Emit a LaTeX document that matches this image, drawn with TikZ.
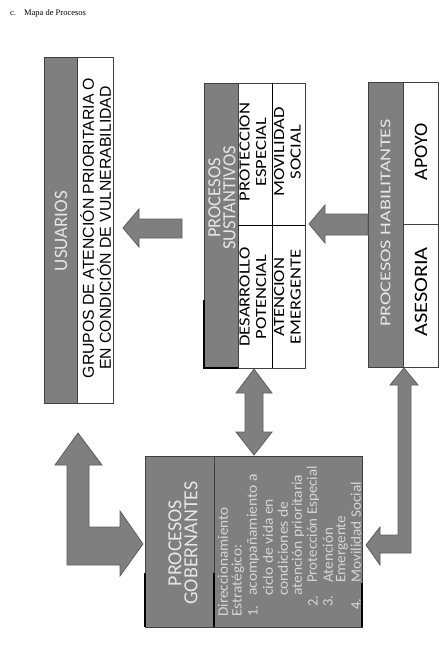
\documentclass[tikz,border=0pt]{standalone}
\usepackage{fontspec}
\setmainfont{Carlito}
\newfontfamily\arialf{Liberation Sans}
\newfontfamily\timesf{Liberation Serif}
\definecolor{dk}{HTML}{7F7F7F}
\definecolor{edgec}{HTML}{404040}
\definecolor{arredge}{HTML}{5E5E5E}
\definecolor{lt}{HTML}{E6E6E6}
\definecolor{lt2}{HTML}{D6D6D6}
\newcommand{\cellstk}[2]{\scalebox{1.2}[1]{\begin{tabular}{@{}c@{}}#1\\#2\end{tabular}}}
\begin{document}
\begin{tikzpicture}[x=1pt,y=-1pt,
  boxn/.style={draw=edgec,line width=0.8pt,inner sep=0pt,outer sep=0pt,anchor=north west},
  darkn/.style={boxn,fill=dk},
  blockarrow/.style={fill=dk,draw=arredge,line width=0.8pt,line join=miter},
  vt/.style={rotate=90,inner sep=0pt,align=center},
  lbl/.style={vt,text=lt,font=\fontsize{19}{15}\selectfont},
  cell/.style={vt,text=black,font=\fontsize{15.5}{16.5}\selectfont},
  li/.style={rotate=90,inner sep=0pt,anchor=west,text=lt2,font=\fontsize{14.5}{14.5}\selectfont},
  artefact/.style={line width=1.6pt,black}
]
\fill[white] (0,0) rectangle (445,646);
\useasboundingbox (0,0) rectangle (445,646);

% caption
\node[anchor=west,inner sep=0pt,font=\timesf\fontsize{8.5}{8.5}\selectfont] (cap) at (10,13) {c.\hspace{8pt}Mapa de Procesos};

% ---------- USUARIOS ----------
\node[boxn,fill=white,minimum width=69pt,minimum height=346pt] (usu) at (44,57) {};
\node[darkn,minimum width=33pt,minimum height=346pt] (usud) at (44,57) {};
\node[lbl] (usut) at (61,231) {USUARIOS};
\node[vt,font=\arialf\fontsize{15.8}{17}\selectfont] (usug) at (95.5,228) {GRUPOS DE ATENCIÓN PRIORITARIA O\\EN CONDICIÓN DE VULNERABILIDAD};

% ---------- SUSTANTIVOS ----------
\node[boxn,fill=white,minimum width=101pt,minimum height=285pt] (sus) at (204,83) {};
\node[darkn,minimum width=34pt,minimum height=285pt] (susd) at (204,83) {};
\draw[black,line width=0.9pt] (sus.north west) ++(68,0) coordinate (sv1) -- (sus.south west -| sv1);
\draw[black,line width=0.9pt] (susd.east |- 0,225) coordinate (sh1) -- (sus.east |- sh1);
\draw[artefact] (204,300) -- (204,368) -- (238,368);
\node[lbl,font=\fontsize{18.5}{15}\selectfont] (sust) at (222,198) {PROCESOS\\SUSTANTIVOS};
\node[cell] (c1) at (254.5,152) {\cellstk{PROTECCION}{ESPECIAL}};
\node[cell] (c2) at (289,152) {\cellstk{MOVILIDAD}{SOCIAL}};
\node[cell] (c3) at (254.5,297) {\cellstk{DESARROLLO}{POTENCIAL}};
\node[cell] (c4) at (289,297) {\cellstk{ATENCION}{EMERGENTE}};

% ---------- HABILITANTES ----------
\node[boxn,fill=white,minimum width=70pt,minimum height=285pt] (hab) at (368,82) {};
\node[darkn,minimum width=35pt,minimum height=285pt] (habd) at (368,82) {};
\draw[edgec,line width=0.8pt] (habd.east |- 0,224) coordinate (hh1) -- (hab.east |- hh1);
\node[vt,text=lt,font=\fontsize{15}{15}\selectfont] (habt) at (385.5,223) {\scalebox{1.35}[1]{PROCESOS HABILITANTES}};
\node[vt,font=\fontsize{19}{19}\selectfont] (apoyo) at (421,152) {\scalebox{1.05}[1]{APOYO}};
\node[vt,font=\fontsize{19}{19}\selectfont] (ases) at (421,292) {\scalebox{1.18}[1]{ASESORIA}};

% ---------- GOBERNANTES ----------
\node[darkn,minimum width=217pt,minimum height=171pt] (gob) at (145,456) {};
\draw[edgec,line width=0.9pt] (214,456) coordinate (gv) -- (gob.south -| gv);
\draw[artefact] (145,573) -- (145,627);
\draw[artefact] (214,573) -- (214,627);
\draw[artefact] (362,583) -- (362,627);
\node[lbl,font=\fontsize{20}{16}\selectfont] (gobt) at (183,543) {PROCESOS\\GOBERNANTES};
\node[li] (l1) at (223,617) {\scalebox{1.05}[1]{Direccionamiento}};
\node[li] (l2) at (238,617) {\scalebox{1.05}[1]{Estratégico:}};
\node[li] (n1) at (253,617) {1.};
\node[li] (l3) at (253,596) {\scalebox{1.07}[1]{acompañamiento a}};
\node[li] (l4) at (268,596) {\scalebox{1.07}[1]{ciclo de vida en}};
\node[li] (l5) at (283,596) {\scalebox{1.07}[1]{condiciones de}};
\node[li] (l6) at (298,596) {\scalebox{1.07}[1]{atención prioritaria}};
\node[li] (n2) at (313,607) {2.};
\node[li] (l7) at (313,583) {\scalebox{1.03}[1]{Protección Especial}};
\node[li] (n3) at (328,607) {3.};
\node[li] (l8) at (328,583) {\scalebox{1.05}[1]{Atención}};
\node[li] (l9) at (342,583) {\scalebox{1.05}[1]{Emergente}};
\node[li] (n4) at (356,610) {4.};
\node[li] (l10) at (356,583) {\scalebox{1.05}[1]{Movilidad Social}};

% ---------- block arrows ----------
% sustantivos -> usuarios
\draw[blockarrow] (182,219) -- (139,219) -- (139,209) -- (123,228) -- (139,247) -- (139,238) -- (182,238) -- cycle;
% habilitantes -> sustantivos
\draw[blockarrow] (368,214) -- (325,214) -- (325,205) -- (309,224) -- (325,243) -- (325,235) -- (368,235) -- cycle;
% sustantivos <-> gobernantes
\draw[blockarrow] (254,369) -- (272,393) -- (263,393) -- (263,432) -- (272,432) -- (254,455) -- (236,432) -- (245,432) -- (245,393) -- (236,393) -- cycle;
% usuarios <-> gobernantes (L)
\draw[blockarrow] (78,433) -- (102,465) -- (89,465) -- (89,527) -- (120,527) -- (120,511) -- (143,544) -- (120,576) -- (120,565) -- (67,565) -- (67,465) -- (55,465) -- cycle;
% habilitantes <-> gobernantes (L)
\draw[blockarrow] (404,368) -- (418,385) -- (411,385) -- (411,553) -- (380,553) -- (380,565) -- (366,545) -- (380,527) -- (380,535) -- (398,535) -- (398,385) -- (390,385) -- cycle;
\end{tikzpicture}
\end{document}
